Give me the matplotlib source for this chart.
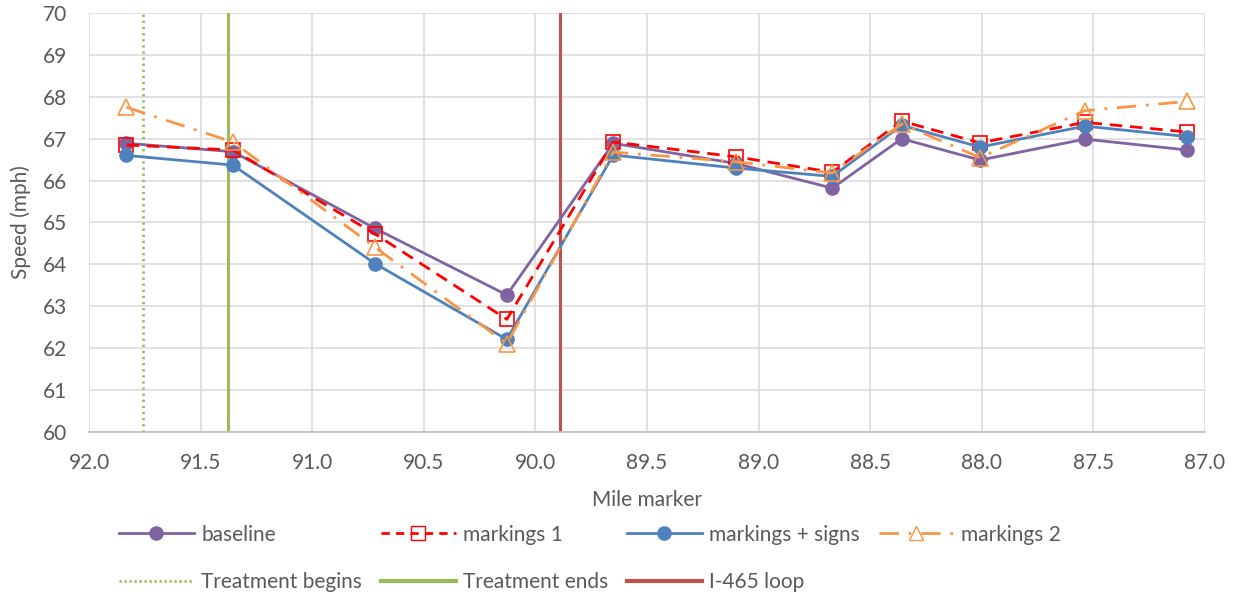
import matplotlib
matplotlib.use("Agg")
import matplotlib.pyplot as plt
from matplotlib.lines import Line2D

plt.rcParams['font.family'] = ['Lato', 'DejaVu Sans']

# Mile markers of the speed stations (x) and mean speeds per period (mph)
mile = [91.832, 91.355, 90.719, 90.128, 89.651, 89.103, 88.670, 88.359, 88.008, 87.538, 87.079]
baseline = [66.89, 66.69, 64.86, 63.27, 66.89, 66.41, 65.82, 67.00, 66.49, 66.99, 66.73]
markings_1 = [66.85, 66.73, 64.73, 62.69, 66.92, 66.57, 66.20, 67.42, 66.90, 67.39, 67.16]
markings_signs = [66.60, 66.37, 64.02, 62.21, 66.61, 66.30, 66.10, 67.32, 66.80, 67.30, 67.05]
markings_2 = [67.75, 66.92, 64.41, 62.11, 66.68, 66.45, 66.18, 67.35, 66.55, 67.67, 67.89]

# Reference locations along the corridor
treatment_begins = 91.759
treatment_ends = 91.379
loop_i465 = 89.889

x_ticks = [92.0, 91.5, 91.0, 90.5, 90.0, 89.5, 89.0, 88.5, 88.0, 87.5, 87.0]
y_ticks = list(range(60, 71))

text_col = '#595959'
grid_col = '#D9D9D9'
fs = 15

fig = plt.figure(figsize=(12.41, 5.96), dpi=100)
ax = fig.add_axes([89 / 1241, 1 - 432 / 596, (1205 - 89) / 1241, (432 - 13) / 596])

# vertical reference lines
ax.axvline(treatment_begins, color='#9BBB59', lw=2, ls=(0, (0.8, 1.4)), zorder=2)
ax.axvline(treatment_ends, color='#9BBB59', lw=2.2, zorder=2)
ax.axvline(loop_i465, color='#C0504D', lw=2.2, zorder=2)

ax.plot(mile, baseline, color='#8064A2', lw=2, marker='o', ms=9.5,
        mfc='#8064A2', mec='#8064A2', zorder=3)
ax.plot(mile, markings_1, color='#FF0000', lw=2, ls=(0, (4.5, 2.8)), marker='s', ms=9.5,
        mfc='none', mec='#FF0000', mew=1.2, zorder=4)
ax.plot(mile, markings_signs, color='#4F81BD', lw=2, marker='o', ms=9.5,
        mfc='#4F81BD', mec='#4F81BD', zorder=5)
ax.plot(mile, markings_2, color='#F79646', lw=2, ls=(0, (7, 3.5, 1, 3.5)), marker='^', ms=11,
        mfc='none', mec='#F79646', mew=1.2, zorder=6)

ax.set_xlim(92.0, 87.0)
ax.set_ylim(60, 70)
ax.set_xticks(x_ticks)
ax.set_xticklabels([f"{v:.1f}" for v in x_ticks])
ax.set_yticks(y_ticks)
ax.tick_params(length=0, labelsize=fs, colors=text_col)
ax.tick_params(axis='x', pad=15)
ax.tick_params(axis='y', pad=16)
ax.grid(True, color=grid_col, lw=1.1, zorder=0)
ax.set_axisbelow(True)
for s in ['top', 'right', 'left']:
    ax.spines[s].set_visible(False)
ax.spines['bottom'].set_color('#BFBFBF')
ax.spines['bottom'].set_linewidth(1.2)

ax.set_xlabel('Mile marker', fontsize=fs, color=text_col, labelpad=12)
ax.set_ylabel('Speed (mph)', fontsize=fs, color=text_col, labelpad=8)

handles = [
    Line2D([], [], color='#8064A2', lw=2, marker='o', ms=9.5, mfc='#8064A2', mec='#8064A2'),
    Line2D([], [], color='#9BBB59', lw=2, ls=(0, (0.8, 1.0))),
    Line2D([], [], color='#FF0000', lw=2, ls=(0, (3, 2.2)), marker='s', ms=9.5, mfc='none', mec='#FF0000'),
    Line2D([], [], color='#9BBB59', lw=3),
    Line2D([], [], color='#4F81BD', lw=2, marker='o', ms=9.5, mfc='#4F81BD', mec='#4F81BD'),
    Line2D([], [], color='#C0504D', lw=3),
    Line2D([], [], color='#F79646', lw=2, ls=(0, (7, 3.5, 1, 3.5)), marker='^', ms=10, mfc='none', mec='#F79646'),
]
labels = ['baseline', 'Treatment begins', 'markings 1', 'Treatment ends',
          'markings + signs', 'I-465 loop', 'markings 2']
leg = fig.legend(handles, labels, ncol=4, loc='upper left', bbox_to_anchor=(100 / 1241, 1 - 506 / 596),
                 frameon=False, fontsize=fs, handlelength=3.6, handletextpad=0.35,
                 columnspacing=0.9, labelspacing=1.3, labelcolor=text_col)

fig.savefig('out.png', dpi=100)
